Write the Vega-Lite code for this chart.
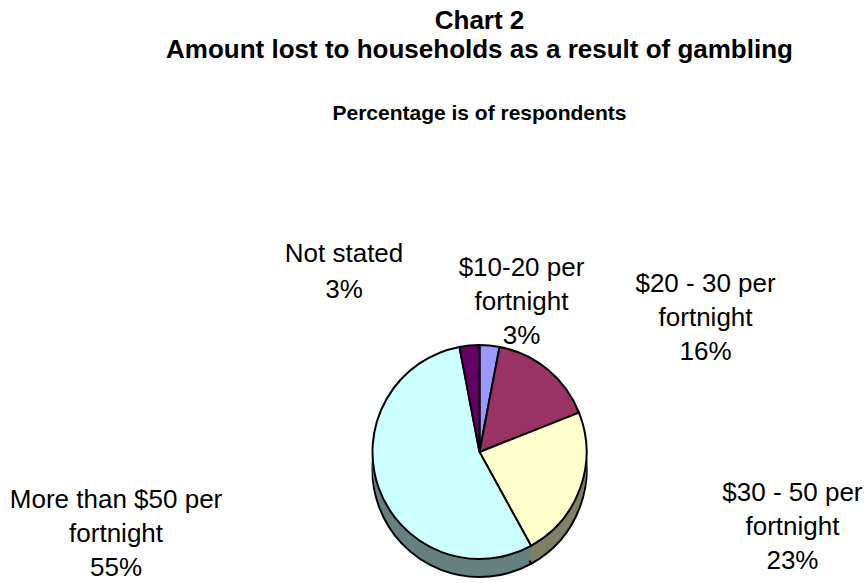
{
  "$schema": "https://vega.github.io/schema/vega-lite/v6.json",
  "width": 771,
  "height": 262,
  "autosize": {"type": "none"},
  "padding": {"left": 94, "top": 321, "right": 0, "bottom": 0},
  "background": "white",
  "title": {
    "text": ["Chart 2", "Amount lost to households as a result of gambling"],
    "subtitle": "Percentage is of respondents",
    "anchor": "middle",
    "frame": "group",
    "font": "Liberation Sans",
    "fontSize": 26,
    "fontWeight": "bold",
    "color": "black",
    "lineHeight": 29,
    "subtitleFont": "Liberation Sans",
    "subtitleFontSize": 21,
    "subtitleFontWeight": "bold",
    "subtitleColor": "black",
    "subtitlePadding": 40,
    "offset": 117
  },
  "data": {
    "values": [
      {"idx": 1, "category": "$10-20 per fortnight", "pct": 3, "label": "$10-20 per\nfortnight\n3%"},
      {"idx": 2, "category": "$20 - 30 per fortnight", "pct": 16, "label": "$20 - 30 per\nfortnight\n16%"},
      {"idx": 3, "category": "$30 - 50 per fortnight", "pct": 23, "label": "$30 - 50 per\nfortnight\n23%"},
      {"idx": 4, "category": "More than $50 per fortnight", "pct": 55, "label": "More than $50 per\nfortnight\n55%"},
      {"idx": 5, "category": "Not stated", "pct": 3, "label": "Not stated\n3%"}
    ]
  },
  "layer": [
    {
      "mark": {"type": "arc", "outerRadius": 107, "yOffset": 18, "stroke": "black", "strokeWidth": 2},
      "encoding": {
        "theta": {"field": "pct", "type": "quantitative", "stack": true, "scale": {"domain": [0, 100]}},
        "order": {"field": "idx", "type": "quantitative"},
        "color": {"field": "category", "type": "nominal", "legend": null,
        "scale": {"domain": ["$10-20 per fortnight", "$20 - 30 per fortnight", "$30 - 50 per fortnight", "More than $50 per fortnight", "Not stated"],
                  "range": ["#4D4D80", "#4D1A33", "#808066", "#668080", "#330033"]}}}
    },
    {
      "mark": {"type": "arc", "outerRadius": 107, "yOffset": 14},
      "encoding": {
        "theta": {"field": "pct", "type": "quantitative", "stack": true, "scale": {"domain": [0, 100]}},
        "order": {"field": "idx", "type": "quantitative"},
        "color": {"field": "category", "type": "nominal", "legend": null,
        "scale": {"domain": ["$10-20 per fortnight", "$20 - 30 per fortnight", "$30 - 50 per fortnight", "More than $50 per fortnight", "Not stated"],
                  "range": ["#4D4D80", "#4D1A33", "#808066", "#668080", "#330033"]}}}
    },
    {
      "mark": {"type": "arc", "outerRadius": 107, "yOffset": 10},
      "encoding": {
        "theta": {"field": "pct", "type": "quantitative", "stack": true, "scale": {"domain": [0, 100]}},
        "order": {"field": "idx", "type": "quantitative"},
        "color": {"field": "category", "type": "nominal", "legend": null,
        "scale": {"domain": ["$10-20 per fortnight", "$20 - 30 per fortnight", "$30 - 50 per fortnight", "More than $50 per fortnight", "Not stated"],
                  "range": ["#4D4D80", "#4D1A33", "#808066", "#668080", "#330033"]}}}
    },
    {
      "mark": {"type": "arc", "outerRadius": 107, "yOffset": 6},
      "encoding": {
        "theta": {"field": "pct", "type": "quantitative", "stack": true, "scale": {"domain": [0, 100]}},
        "order": {"field": "idx", "type": "quantitative"},
        "color": {"field": "category", "type": "nominal", "legend": null,
        "scale": {"domain": ["$10-20 per fortnight", "$20 - 30 per fortnight", "$30 - 50 per fortnight", "More than $50 per fortnight", "Not stated"],
                  "range": ["#4D4D80", "#4D1A33", "#808066", "#668080", "#330033"]}}}
    },
    {
      "mark": {"type": "arc", "outerRadius": 107, "yOffset": 3},
      "encoding": {
        "theta": {"field": "pct", "type": "quantitative", "stack": true, "scale": {"domain": [0, 100]}},
        "order": {"field": "idx", "type": "quantitative"},
        "color": {"field": "category", "type": "nominal", "legend": null,
        "scale": {"domain": ["$10-20 per fortnight", "$20 - 30 per fortnight", "$30 - 50 per fortnight", "More than $50 per fortnight", "Not stated"],
                  "range": ["#4D4D80", "#4D1A33", "#808066", "#668080", "#330033"]}}}
    },
    {
      "mark": {"type": "arc", "outerRadius": 107, "stroke": "black", "strokeWidth": 2},
      "encoding": {
        "theta": {"field": "pct", "type": "quantitative", "stack": true, "scale": {"domain": [0, 100]}},
        "order": {"field": "idx", "type": "quantitative"},
        "color": {"field": "category", "type": "nominal", "legend": null,
        "scale": {"domain": ["$10-20 per fortnight", "$20 - 30 per fortnight", "$30 - 50 per fortnight", "More than $50 per fortnight", "Not stated"],
                  "range": ["#9999FF", "#993366", "#FFFFCC", "#CCFFFF", "#660066"]}}}
    },
    {
      "transform": [
        {"stack": "pct", "groupby": [], "sort": [{"field": "idx", "order": "ascending"}], "as": ["t0", "t1"]},
        {"filter": "datum.category === 'Not stated'"}
      ],
      "mark": {"type": "text", "radius": 200, "dx": -98, "dy": -2, "align": "center", "baseline": "middle", "font": "Liberation Sans", "fontSize": 26, "lineHeight": 36, "lineBreak": "\n", "color": "black"},
      "encoding": {
        "theta": {"field": "t0", "type": "quantitative", "stack": false, "scale": {"domain": [0, 100]}},
        "text": {"field": "label"}
      }
    },
    {
      "transform": [
        {"stack": "pct", "groupby": [], "sort": [{"field": "idx", "order": "ascending"}], "as": ["t0", "t1"]},
        {"filter": "datum.category === '$10-20 per fortnight'"}
      ],
      "mark": {"type": "text", "radius": 184, "dx": 42, "dy": 0, "align": "center", "baseline": "middle", "font": "Liberation Sans", "fontSize": 26, "lineHeight": 34, "lineBreak": "\n", "color": "black"},
      "encoding": {
        "theta": {"field": "t0", "type": "quantitative", "stack": false, "scale": {"domain": [0, 100]}},
        "text": {"field": "label"}
      }
    },
    {
      "transform": [
        {"stack": "pct", "groupby": [], "sort": [{"field": "idx", "order": "ascending"}], "as": ["t0", "t1"]},
        {"filter": "datum.category === '$20 - 30 per fortnight'"}
      ],
      "mark": {"type": "text", "radius": 171, "dx": 194, "dy": 0, "align": "center", "baseline": "middle", "font": "Liberation Sans", "fontSize": 26, "lineHeight": 34, "lineBreak": "\n", "color": "black"},
      "encoding": {
        "theta": {"field": "t0", "type": "quantitative", "stack": false, "scale": {"domain": [0, 100]}},
        "text": {"field": "label"}
      }
    },
    {
      "transform": [
        {"stack": "pct", "groupby": [], "sort": [{"field": "idx", "order": "ascending"}], "as": ["t0", "t1"]},
        {"filter": "datum.category === '$30 - 50 per fortnight'"}
      ],
      "mark": {"type": "text", "radius": 300, "dx": 34, "dy": 151, "align": "center", "baseline": "middle", "font": "Liberation Sans", "fontSize": 26, "lineHeight": 34, "lineBreak": "\n", "color": "black"},
      "encoding": {
        "theta": {"field": "t0", "type": "quantitative", "stack": false, "scale": {"domain": [0, 100]}},
        "text": {"field": "label"}
      }
    },
    {
      "transform": [
        {"stack": "pct", "groupby": [], "sort": [{"field": "idx", "order": "ascending"}], "as": ["t0", "t1"]},
        {"filter": "datum.category === 'More than $50 per fortnight'"}
      ],
      "mark": {"type": "text", "radius": 107, "dx": -415, "dy": -46, "align": "center", "baseline": "middle", "font": "Liberation Sans", "fontSize": 26, "lineHeight": 34, "lineBreak": "\n", "color": "black"},
      "encoding": {
        "theta": {"field": "t0", "type": "quantitative", "stack": false, "scale": {"domain": [0, 100]}},
        "text": {"field": "label"}
      }
    }
  ],
  "resolve": {"scale": {"color": "independent"}},
  "config": {"view": {"stroke": null}}
}
